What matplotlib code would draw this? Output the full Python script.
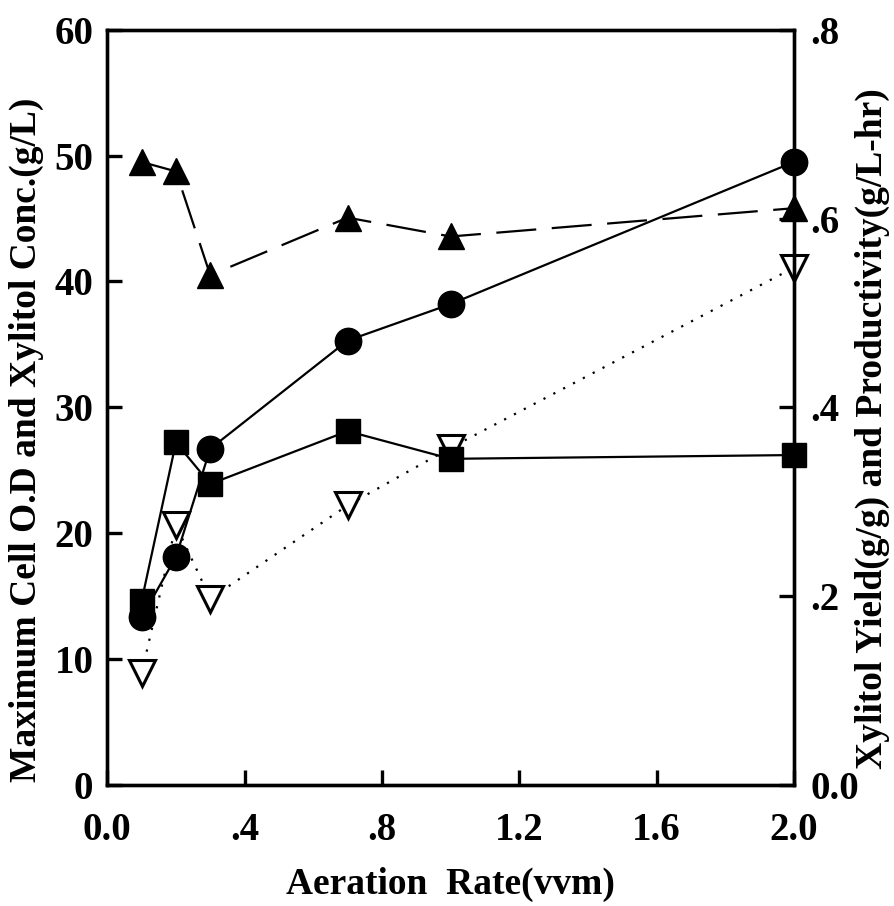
import matplotlib
matplotlib.use('Agg')
import matplotlib.pyplot as plt

plt.rcParams['font.family'] = ['Liberation Serif', 'DejaVu Serif']
plt.rcParams['font.weight'] = 'bold'

aeration = [0.1, 0.2, 0.3, 0.7, 1.0, 2.0]
cell_od = [13.3, 18.1, 26.7, 35.3, 38.2, 49.5]
xylitol_conc = [14.6, 27.2, 23.9, 28.1, 25.9, 26.2]
xylitol_yield = [0.660, 0.650, 0.540, 0.601, 0.581, 0.611]
productivity = [0.118, 0.275, 0.197, 0.296, 0.357, 0.548]

x_ticks = [0.0, 0.4, 0.8, 1.2, 1.6, 2.0]
x_labels = ['0.0', '.4', '.8', '1.2', '1.6', '2.0']
left_ticks = [0, 10, 20, 30, 40, 50, 60]
right_ticks = [0.0, 0.2, 0.4, 0.6, 0.8]
right_labels = ['0.0', '.2', '.4', '.6', '.8']

fig = plt.figure(figsize=(8.94, 9.06), dpi=100)
ax = fig.add_axes([0.12, 0.134, 0.768, 0.833])
ax2 = ax.twinx()

# right axis series first, left axis drawn on top
ax2.plot(aeration, xylitol_yield, color='black', lw=1.6, dashes=(18, 7),
         marker='^', ms=19, markerfacecolor='black', markeredgecolor='black')
ax2.plot(aeration, productivity, color='black', lw=1.6, linestyle=(0, (1, 4)),
         marker='v', ms=19, markerfacecolor='white', markeredgecolor='black',
         markeredgewidth=2.2)
ax.plot(aeration, xylitol_conc, color='black', lw=1.6, marker='s', ms=17,
        markerfacecolor='black', markeredgecolor='black', clip_on=False, zorder=3)
ax.plot(aeration, cell_od, color='black', lw=1.6, marker='o', ms=19,
        markerfacecolor='black', markeredgecolor='black', clip_on=False, zorder=4)
for line in ax2.get_lines():
    line.set_clip_on(False)

ax.set_xlim(0, 2.0)
ax.set_ylim(0, 60)
ax2.set_ylim(0, 0.8)
ax.set_xticks(x_ticks)
ax.set_xticklabels(x_labels)
ax.set_yticks(left_ticks)
ax2.set_yticks(right_ticks)
ax2.set_yticklabels(right_labels)

for a in (ax, ax2):
    for s in a.spines.values():
        s.set_linewidth(2.4)
    a.tick_params(direction='in', length=11, width=2.4, labelsize=28)
ax.tick_params(axis='x', pad=20)
ax.tick_params(axis='y', pad=10)
ax2.tick_params(axis='y', pad=12)

ax.set_xlabel('Aeration  Rate(vvm)', fontsize=27, fontweight='bold', va='center')
ax.xaxis.set_label_coords(0.5, -0.132)
ax.set_ylabel('Maximum Cell O.D and Xylitol Conc.(g/L)', fontsize=27,
              fontweight='bold', va='center')
ax.yaxis.set_label_coords(-0.118, 0.457)
ax2.set_ylabel('Xylitol Yield(g/g) and Productivity(g/L-hr)', fontsize=27,
               fontweight='bold', rotation=90, va='center')
ax2.yaxis.set_label_coords(1.115, 0.472)

ax.set_zorder(ax2.get_zorder() + 1)
ax.patch.set_visible(False)

plt.savefig('out.png', dpi=100)
